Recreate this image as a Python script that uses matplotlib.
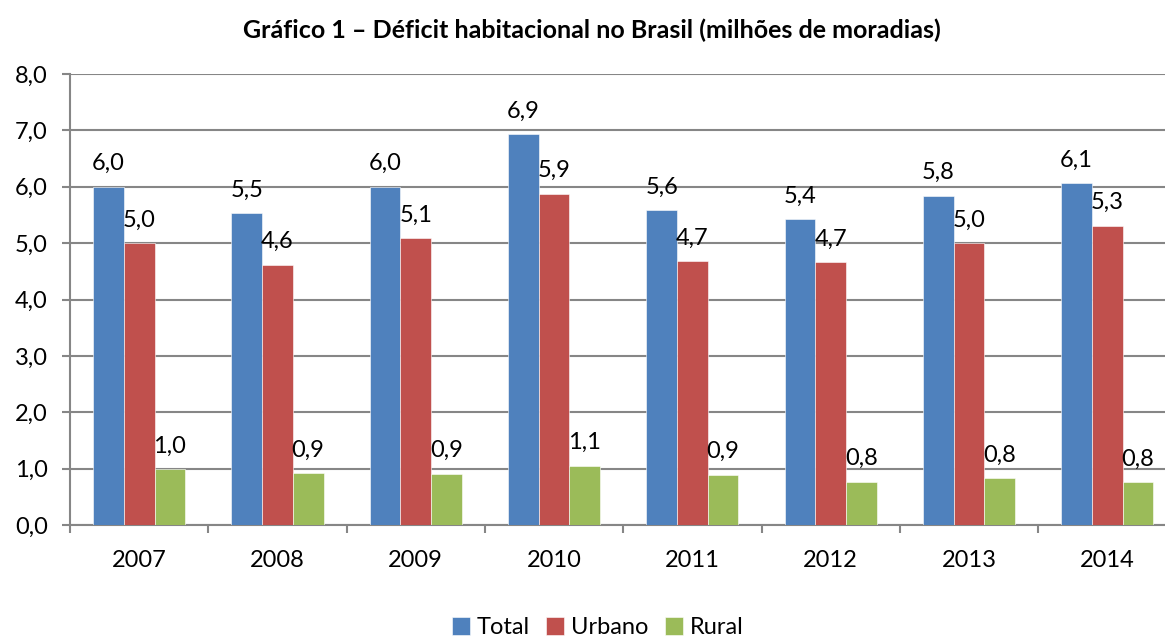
import numpy as np
import matplotlib
matplotlib.use('Agg')
import matplotlib.pyplot as plt
from matplotlib.ticker import FixedLocator

# dados (milhoes de moradias)
anos = ['2007', '2008', '2009', '2010', '2011', '2012', '2013', '2014']
total = [6.0, 5.53, 6.0, 6.93, 5.58, 5.43, 5.84, 6.06]
urbano = [5.0, 4.62, 5.09, 5.88, 4.68, 4.66, 5.0, 5.31]
rural = [0.99, 0.92, 0.91, 1.05, 0.89, 0.77, 0.83, 0.76]
series = ['Total', 'Urbano', 'Rural']
cores = ['#4F81BD', '#C0504D', '#9BBB59']

plt.rcParams['font.family'] = ['Lato', 'DejaVu Sans']

fig = plt.figure(figsize=(11.65, 6.36), dpi=100)
ax = fig.add_axes([70 / 1165, 111 / 636, 1 - 70 / 1165, 451 / 636])

x = np.arange(len(anos))
w = 0.222
for i, (nome, vals, cor) in enumerate(zip(series, [total, urbano, rural], cores)):
    pos = x + (i - 1) * w
    ax.bar(pos, vals, width=w, color=cor, label=nome, zorder=3,
           edgecolor='white', linewidth=0.4)
    for px, v in zip(pos, vals):
        ax.annotate(('%.1f' % v).replace('.', ','), (px, v), xytext=(0, 9),
                    textcoords='offset points', ha='center', va='bottom',
                    fontsize=17, zorder=4)

ax.set_ylim(0, 8)
ax.set_xlim(-0.5, -0.5 + (1165 - 70) / 138.3)
ax.set_yticks(np.arange(0, 8.1, 1))
ax.set_yticklabels([('%.1f' % t).replace('.', ',') for t in np.arange(0, 8.1, 1)])
ax.set_xticks(x)
ax.set_xticklabels(anos)
ax.xaxis.set_minor_locator(FixedLocator(np.arange(-0.5, 8, 1)))

ax.grid(axis='y', color='#868686', linewidth=1.5, zorder=0)
for s in ['top', 'right']:
    ax.spines[s].set_visible(False)
for s in ['left', 'bottom']:
    ax.spines[s].set_color('#868686')
    ax.spines[s].set_linewidth(1.5)

ax.tick_params(axis='y', length=6, width=1.5, color='#868686', labelsize=17, pad=10)
ax.tick_params(axis='x', which='major', length=0, labelsize=17, pad=18)
ax.tick_params(axis='x', which='minor', length=6, width=1.5, color='#868686')

fig.text(0.508, 0.953, 'Gráfico 1 – Déficit habitacional no Brasil (milhões de moradias)',
         ha='center', va='center', fontsize=18, fontweight='bold')

fig.legend(loc='center', bbox_to_anchor=(0.513, 0.013), ncol=3, frameon=False,
           fontsize=17, handlelength=0.75, handleheight=0.75, handletextpad=0.3,
           columnspacing=0.7)

fig.savefig('out.png', dpi=100)
